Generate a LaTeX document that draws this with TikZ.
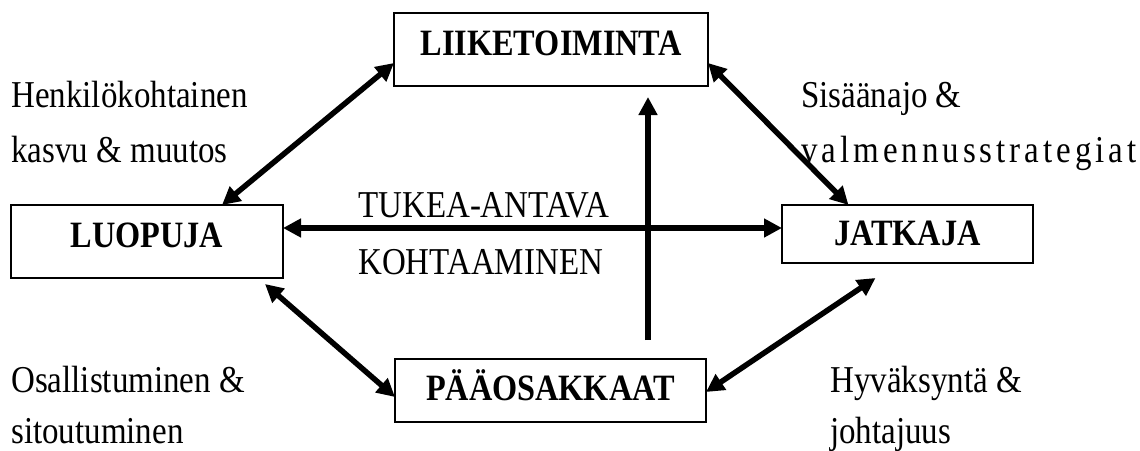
\documentclass[tikz,border=0pt]{standalone}
\usepackage{graphicx}
\usepackage{fontspec}
\setmainfont{Liberation Serif}
\usetikzlibrary{arrows.meta}
% text in this chart is set slightly taller than wide
\newcommand\tallt[1]{\scalebox{1}[1.15]{#1}}
\begin{document}
\begin{tikzpicture}[x=1pt,y=-1pt,
  box/.style={draw, line width=1.3pt, rectangle, inner sep=0pt, outer sep=0pt,
    font=\fontsize{32.3}{38}\selectfont\bfseries, text height=24pt},
  note/.style={anchor=base west, inner sep=0pt, font=\fontsize{33}{38}\selectfont},
  link/.style={line width=5.5pt, {Triangle[length=18pt,width=18pt]}-{Triangle[length=18pt,width=18pt]}},
  oneway/.style={line width=5.5pt, -{Triangle[length=18pt,width=18pt]}}]
\useasboundingbox (0,0) rectangle (1140,450);

% the four parties
\node[box, minimum width=314pt, minimum height=73pt, text depth=13pt] (liike) at (551,49.5) {\tallt{LIIKETOIMINTA}};
\node[box, minimum width=272pt, minimum height=73pt, text depth=13pt] (luo) at (147,241.5) {\tallt{LUOPUJA}};
\node[box, minimum width=251pt, minimum height=58pt, text depth=2pt] (jat) at (907.5,234) {\tallt{JATKAJA}};
\node[box, minimum width=311pt, minimum height=63pt, text depth=5pt] (paa) at (550.5,390.5) {\tallt{PÄÄOSAKKAAT}};

% connectors
\draw[link] ([yshift=13.5pt]luo.east) -- ([yshift=6pt]jat.west);
\draw[link] ([yshift=-13.5pt]liike.west) -- ([xshift=75pt]luo.north);
\draw[link] ([yshift=-13.5pt]liike.east) -- ([xshift=-59pt]jat.north);
\draw[link] ([xshift=-18pt,yshift=-6pt]luo.south east) -- ([yshift=-6.5pt]paa.west);
\draw[link] ([yshift=-1.5pt]paa.east) -- ([xshift=-32pt,yshift=-15pt]jat.south);
\coordinate (up) at ([xshift=97.5pt,yshift=19pt]paa.north);
\draw[oneway] (up) -- ([xshift=97pt,yshift=-11pt]liike.south);

% side notes
\node[note] (n1) at (11,107) {\tallt{Henkilökohtainen}};
\node[note] (n2) at (11,162) {\tallt{kasvu \& muutos}};
\node[note] (n3) at (801,107) {\tallt{Sisäänajo \&}};
\node[note] (n4) at (801,162) {\tallt{\addfontfeatures{LetterSpace=12}valmennusstrategiat}};
\node[note] (n5) at (11,392) {\tallt{Osallistuminen \&}};
\node[note] (n6) at (11,443) {\tallt{sitoutuminen}};
\node[note] (n7) at (830,392) {\tallt{Hyväksyntä \&}};
\node[note] (n8) at (830,443) {\tallt{johtajuus}};
\node[note] (n9) at (358,217) {\tallt{TUKEA-ANTAVA}};
\node[note] (n10) at (358,274) {\tallt{KOHTAAMINEN}};
\end{tikzpicture}
\end{document}
